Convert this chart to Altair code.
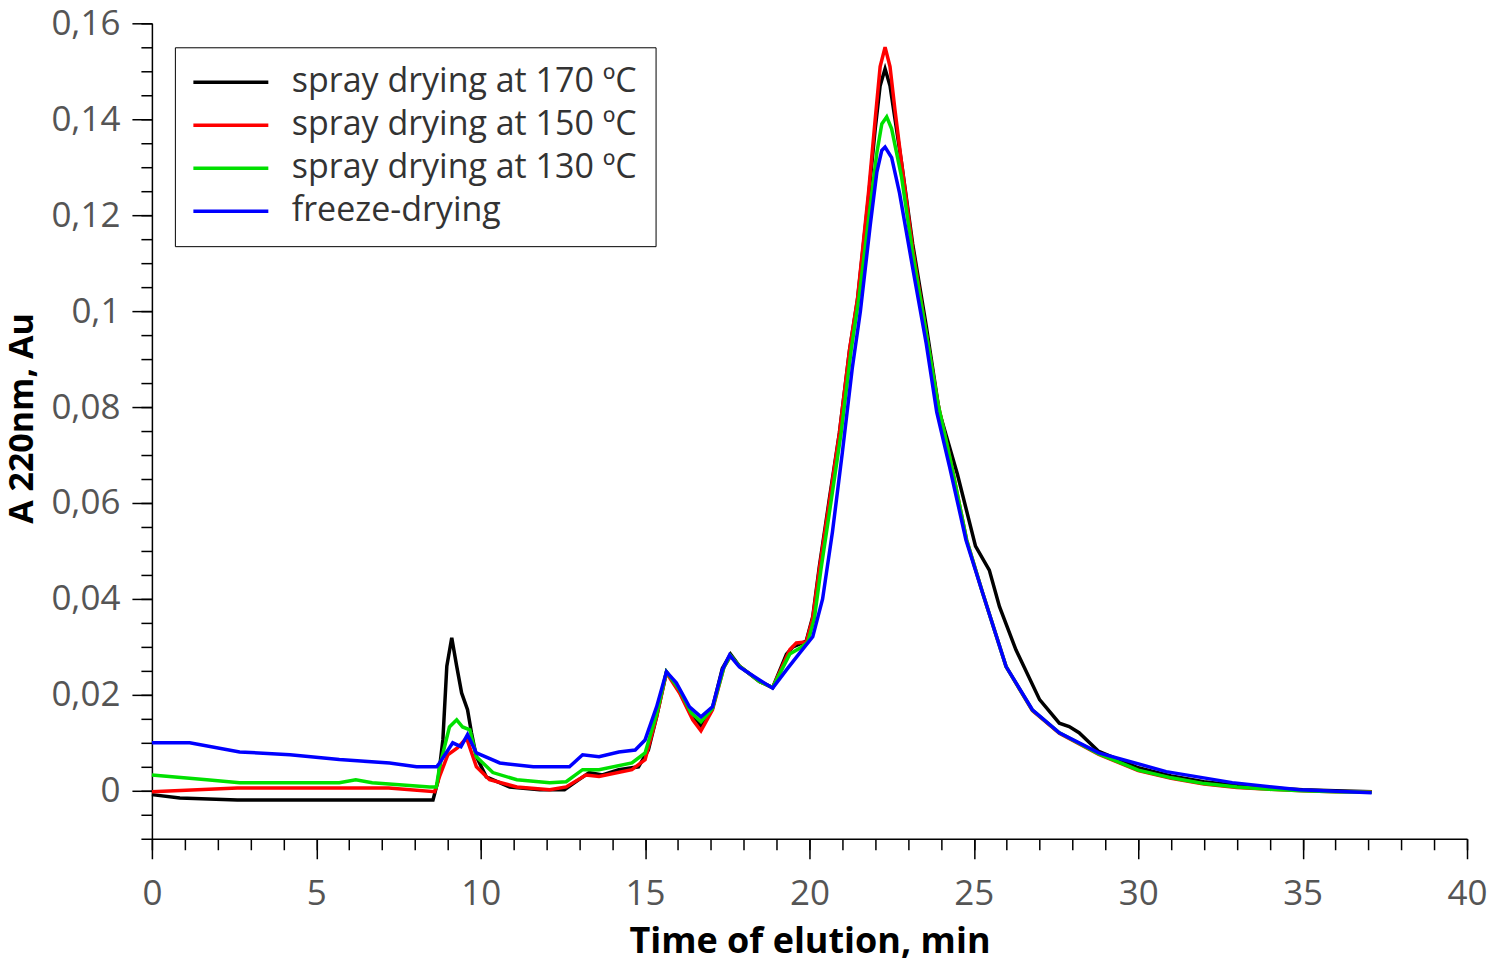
import altair as alt
import pandas as pd

# ---------------- data ----------------
series_names = ["spray drying at 170 ºC", "spray drying at 150 ºC",
                "spray drying at 130 ºC", "freeze-drying"]
series_colors = ["#000000", "#ff0000", "#00e000", "#0000ff"]

t_170 = [0, 0.85, 2.6, 8.55, 8.7, 8.85, 8.97, 9.12, 9.27, 9.42, 9.6, 9.72, 9.87,
         10.17, 10.88, 11.8, 12.55, 12.9, 13.3, 13.7, 14.2, 14.8, 15.1, 15.35, 15.65,
         15.95, 16.35, 16.7, 17.05, 17.35, 17.6, 17.87, 18.48, 18.88, 19.3, 19.5, 19.9,
         20.1, 20.3, 20.6, 20.91, 21.22, 21.46, 21.8, 22.0, 22.15, 22.3, 22.45, 22.8,
         23.14, 23.55, 23.95, 24.5, 25.05, 25.47, 25.78, 26.28, 27.0, 27.6, 27.9, 28.2,
         28.8, 30.0, 31.0, 32.0, 33.0, 34.0, 35.0, 36.0, 37.1]
a_170 = [-0.0008, -0.0015, -0.0019, -0.0019, 0.002, 0.0106, 0.026, 0.0319, 0.026, 0.0204,
         0.0169, 0.0121, 0.0071, 0.0029, 0.0008, 0.0002, 0.0002, 0.0019, 0.0038, 0.0033,
         0.0044, 0.005, 0.0085, 0.0154, 0.0248, 0.022, 0.0165, 0.0135, 0.0172, 0.0255,
         0.0285, 0.026, 0.0228, 0.0215, 0.0285, 0.0300, 0.0312, 0.0363, 0.0467, 0.0606,
         0.0746, 0.0919, 0.1023, 0.124, 0.138, 0.147, 0.1505, 0.147, 0.131, 0.114, 0.097,
         0.079, 0.066, 0.051, 0.046, 0.0384, 0.0294, 0.019, 0.0141, 0.0134, 0.0121,
         0.0082, 0.0048, 0.0031, 0.0019, 0.0011, 0.0006, 0.0002, 0.0, -0.0002]

t_150 = [0, 2.6, 7.2, 8.6, 8.75, 9.0, 9.3, 9.57, 9.87, 10.27, 11.1, 12.1, 12.6, 13.2,
         13.6, 14.6, 15.0, 15.35, 15.65, 16.05, 16.45, 16.7, 17.05, 17.4, 17.6, 17.87,
         18.48, 18.88, 19.4, 19.6, 19.9, 20.1, 20.3, 20.6, 20.91, 21.22, 21.46, 21.8,
         22.0, 22.15, 22.3, 22.45, 22.6, 22.8, 23.14, 23.55, 23.9, 24.3, 24.78, 25.27,
         25.98, 26.78, 27.6, 28.8, 30.0, 31.0, 32.0, 33.0, 34.0, 35.0, 36.0, 37.1]
a_150 = [-0.0002, 0.0006, 0.0006, -0.0002, 0.003, 0.0075, 0.009, 0.011, 0.005, 0.0023,
         0.0008, 0.0002, 0.0008, 0.0033, 0.003, 0.0044, 0.0065, 0.0154, 0.0246, 0.0204,
         0.0148, 0.0125, 0.0169, 0.0258, 0.0281, 0.026, 0.0228, 0.0215, 0.0294, 0.0308,
         0.0310, 0.036, 0.0462, 0.060, 0.0745, 0.092, 0.1025, 0.125, 0.140, 0.151, 0.155,
         0.151, 0.142, 0.131, 0.113, 0.0955, 0.081, 0.0685, 0.0523, 0.0412, 0.0259,
         0.0167, 0.0120, 0.0076, 0.0042, 0.0026, 0.0014, 0.0007, 0.0003, 0.0, -0.0002,
         -0.0002]

t_130 = [0, 1.67, 2.67, 5.7, 6.2, 6.7, 8.45, 8.65, 8.75, 9.05, 9.27, 9.45, 9.67, 9.87,
         10.37, 11.1, 12.1, 12.6, 13.1, 13.6, 14.6, 15.0, 15.35, 15.65, 16.05, 16.4,
         16.7, 17.05, 17.4, 17.6, 17.87, 18.48, 18.88, 19.4, 19.7, 19.95, 20.15, 20.35,
         20.65, 20.96, 21.27, 21.5, 21.85, 22.05, 22.2, 22.35, 22.5, 22.8, 23.14, 23.55,
         23.9, 24.3, 24.78, 25.27, 25.98, 26.78, 27.6, 28.8, 30.0, 31.0, 32.0, 33.0,
         34.0, 35.0, 36.0, 37.1]
a_130 = [0.0033, 0.0023, 0.0017, 0.0017, 0.0023, 0.0017, 0.0008, 0.0008, 0.005, 0.0133,
         0.0148, 0.0133, 0.0127, 0.0071, 0.0038, 0.0023, 0.0017, 0.0019, 0.0044, 0.0044,
         0.0058, 0.0079, 0.016, 0.0248, 0.021, 0.0163, 0.0144, 0.0172, 0.0258, 0.0282,
         0.026, 0.0228, 0.0215, 0.0285, 0.0297, 0.031, 0.036, 0.0462, 0.060, 0.0745,
         0.092, 0.1025, 0.122, 0.133, 0.139, 0.1405, 0.138, 0.128, 0.112, 0.0955, 0.081,
         0.0685, 0.0523, 0.0412, 0.0259, 0.0168, 0.0121, 0.0077, 0.0043, 0.0027, 0.0015,
         0.0008, 0.0003, 0.0, -0.0002, -0.0003]

t_fd = [0, 1.15, 2.67, 4.2, 5.7, 7.23, 8.05, 8.66, 8.75, 9.15, 9.4, 9.6, 9.87, 10.58,
        11.6, 12.7, 13.1, 13.6, 14.2, 14.7, 15.0, 15.35, 15.65, 15.95, 16.35, 16.7,
        17.05, 17.35, 17.57, 17.87, 18.48, 18.88, 19.3, 19.7, 20.1, 20.4, 20.7, 21.0,
        21.3, 21.55, 21.85, 22.05, 22.2, 22.3, 22.5, 22.74, 23.14, 23.55, 23.87, 24.26,
        24.76, 25.27, 25.98, 26.78, 27.6, 28.8, 30.85, 32.86, 34.9, 37.1]
a_fd = [0.0100, 0.0100, 0.0081, 0.0075, 0.0065, 0.0058, 0.005, 0.005, 0.0058, 0.0100,
        0.0092, 0.0117, 0.0079, 0.0058, 0.005, 0.005, 0.0075, 0.0071, 0.0081, 0.0085,
        0.0106, 0.0175, 0.0248, 0.0225, 0.0175, 0.0154, 0.0175, 0.0252, 0.0283, 0.0258,
        0.0231, 0.0214, 0.0252, 0.0287, 0.0321, 0.040, 0.054, 0.0705, 0.088, 0.100,
        0.118, 0.129, 0.1335, 0.1342, 0.132, 0.1246, 0.109, 0.0933, 0.079, 0.0676,
        0.0523, 0.0412, 0.0259, 0.0169, 0.0121, 0.0079, 0.0040, 0.0017, 0.0002, -0.0004]

x_major = [0, 5, 10, 15, 20, 25, 30, 35, 40]
x_minor = [0, 1, 2, 3, 4, 5, 6, 7, 8, 9, 10, 11, 12, 13, 14, 15, 16, 17, 18, 19, 20,
           21, 22, 23, 24, 25, 26, 27, 28, 29, 30, 31, 32, 33, 34, 35, 36, 37, 38, 39, 40]
y_major = [0, 0.02, 0.04, 0.06, 0.08, 0.1, 0.12, 0.14, 0.16]
y_minor = [-0.01, -0.005, 0, 0.005, 0.01, 0.015, 0.02, 0.025, 0.03, 0.035, 0.04, 0.045,
           0.05, 0.055, 0.06, 0.065, 0.07, 0.075, 0.08, 0.085, 0.09, 0.095, 0.1, 0.105,
           0.11, 0.115, 0.12, 0.125, 0.13, 0.135, 0.14, 0.145, 0.15, 0.155, 0.16]

rows = []
for name, ts, vals in zip(series_names, [t_170, t_150, t_130, t_fd],
                          [a_170, a_150, a_130, a_fd]):
    for t, a in zip(ts, vals):
        rows.append({"t": t, "a": a, "series": name})
df = pd.DataFrame(rows)

FONT = "Open Sans"
x_scale = alt.Scale(domain=[0, 40], nice=False, zero=False)
y_scale = alt.Scale(domain=[-0.01, 0.16], nice=False, zero=False)

x_axis = alt.Axis(orient="bottom", values=x_major, title="Time of elution, min",
                  grid=False, tickSize=20, tickWidth=1.5, tickColor="black",
                  domainColor="black", domainWidth=1.5,
                  labelFont=FONT, labelFontSize=35, labelColor="#555555",
                  labelPadding=18, labelFlush=False,
                  titleFont=FONT, titleFontSize=36, titleFontWeight="bold",
                  titleColor="black", titleBaseline="alphabetic", titleY=114)
y_axis = alt.Axis(orient="left", values=y_major, title="A 220nm, Au", grid=False,
                  tickSize=20, tickWidth=1.5, tickColor="black",
                  domainColor="black", domainWidth=1.5,
                  labelFont=FONT, labelFontSize=35, labelColor="#555555",
                  labelPadding=12, labelFlush=False,
                  labelExpr="replace(format(datum.value, '.2~f'), '.', ',')",
                  titleFont=FONT, titleFontSize=34, titleFontWeight="bold",
                  titleColor="black", titleAngle=270, titleBaseline="middle",
                  titleAlign="center", titleX=-129, titleY=395)

lines = alt.Chart(df).mark_line(strokeWidth=3.5, interpolate="linear").encode(
    x=alt.X("t:Q", scale=x_scale, axis=x_axis),
    y=alt.Y("a:Q", scale=y_scale, axis=y_axis),
    color=alt.Color(
        "series:N",
        scale=alt.Scale(domain=series_names, range=series_colors),
        legend=alt.Legend(
            title=None, orient="none", legendX=23, legendY=24,
            symbolType="M-2.5,0H2.5", symbolSize=900, symbolStrokeWidth=3.5,
            symbolOffset=21,
            labelFont=FONT, labelFontSize=34, labelColor="#333333",
            labelOffset=44, labelLimit=0, padding=18, rowPadding=9,
            strokeColor="black", fillColor="white", cornerRadius=0,
        ),
    ),
)

minor = alt.Chart(df).mark_line(opacity=0).encode(
    x=alt.X("t:Q", scale=x_scale,
            axis=alt.Axis(values=x_minor, labels=False, domain=False, grid=False,
                          title=None, tickSize=11, tickWidth=1.5,
                          tickColor="black", orient="bottom")),
    y=alt.Y("a:Q", scale=y_scale,
            axis=alt.Axis(values=y_minor, labels=False, domain=False, grid=False,
                          title=None, tickSize=11, tickWidth=1.5,
                          tickColor="black", orient="left")),
)

chart = alt.layer(minor, lines).resolve_axis(
    x="independent", y="independent"
).properties(
    width=1316, height=816,
    autosize=alt.AutoSizeParams(type="none"),
    padding={"left": 144, "top": 15, "right": 24, "bottom": 120},
    background="white",
).configure_view(stroke=None)

chart.save("out.html", embed_options={"renderer": "svg", "actions": False})
